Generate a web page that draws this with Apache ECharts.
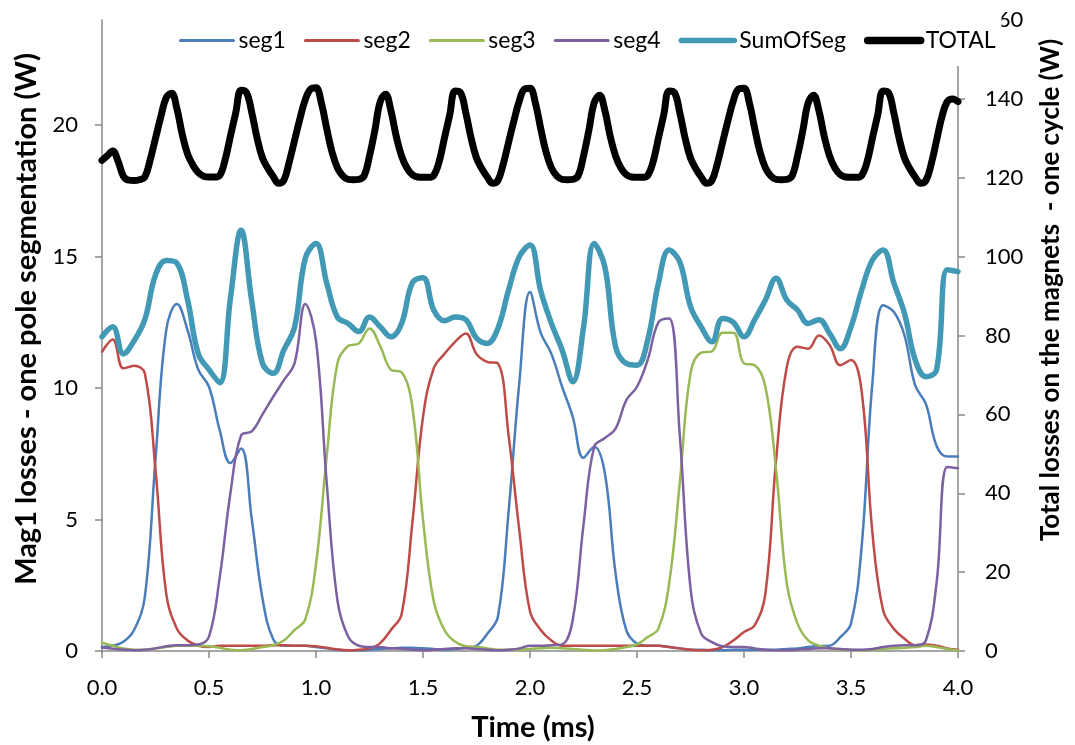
<!DOCTYPE html>
<html><head><meta charset="utf-8">
<script src="https://cdn.jsdelivr.net/npm/echarts@6/dist/echarts.min.js"></script>
<style>html,body{margin:0;padding:0;background:#fff}#c{width:1075px;height:745px}</style>
</head><body><div id="c"></div>
<script>
// Time (ms) for the segment series
const time = [0,0.05,0.1,0.15,0.2,0.25,0.3,0.35,0.4,0.45,0.5,0.55,0.6,0.65,0.7,0.75,0.8,0.85,0.9,0.95,
1.0,1.05,1.1,1.15,1.2,1.25,1.3,1.35,1.4,1.45,1.5,1.55,1.6,1.65,1.7,1.75,1.8,1.85,1.9,1.95,
2.0,2.05,2.1,2.15,2.2,2.25,2.3,2.35,2.4,2.45,2.5,2.55,2.6,2.65,2.7,2.75,2.8,2.85,2.9,2.95,
3.0,3.05,3.1,3.15,3.2,3.25,3.3,3.35,3.4,3.45,3.5,3.55,3.6,3.65,3.7,3.75,3.8,3.85,3.9,3.95,4.0];

const seg1 = [0.15,0.2,0.35,0.8,2.05,7.3,12.2,13.2,12.2,10.7,10.05,8.4,7.15,7.7,5.0,2.0,0.45,0.2,0.2,0.2,
0.15,0.1,0.05,0.03,0.03,0.05,0.08,0.1,0.12,0.12,0.1,0.08,0.05,0.08,0.12,0.2,0.65,1.3,5.3,10.2,
13.65,12.1,11.3,10.05,8.9,7.35,7.77,6.75,2.94,0.79,0.28,0.2,0.2,0.15,0.1,0.05,0.05,0.03,0.03,0.05,
0.05,0.05,0.05,0.05,0.08,0.1,0.15,0.18,0.2,0.53,1.04,4.0,10.2,13.15,12.9,12.0,10.1,9.4,7.8,7.4,7.4];

const seg2 = [11.38,11.85,10.75,10.85,10.56,6.9,2.18,0.85,0.4,0.2,0.15,0.2,0.2,0.2,0.2,0.2,0.22,0.22,0.2,0.2,
0.18,0.12,0.06,0.03,0.05,0.1,0.3,0.8,1.4,4.85,8.9,10.75,11.3,11.76,12.08,11.3,11.0,10.94,8.2,4.6,
1.5,0.8,0.4,0.2,0.2,0.2,0.2,0.2,0.2,0.2,0.2,0.2,0.2,0.15,0.1,0.05,0.03,0.05,0.15,0.4,
0.72,0.98,2.18,7.26,10.8,11.57,11.5,12.0,11.64,10.87,11.07,9.86,4.5,1.55,0.85,0.47,0.22,0.25,0.2,0.1,0.05];

const seg3 = [0.32,0.2,0.1,0.05,0.05,0.1,0.15,0.2,0.2,0.2,0.18,0.12,0.05,0.03,0.08,0.15,0.22,0.4,0.8,1.2,
3.3,7.4,10.94,11.6,11.7,12.27,11.6,10.7,10.6,9.3,5.0,1.9,0.8,0.35,0.18,0.15,0.1,0.05,0.05,0.05,
0.08,0.1,0.12,0.1,0.08,0.05,0.02,0.03,0.08,0.15,0.25,0.53,0.85,2.56,6.4,10.56,11.35,11.4,12.1,12.1,
10.94,10.87,10.05,6.88,2.56,1.04,0.4,0.2,0.1,0.05,0.05,0.03,0.05,0.08,0.1,0.12,0.15,0.2,0.15,0.08,0.02];

const seg4 = [0.13,0.09,0.05,0.03,0.05,0.1,0.18,0.22,0.22,0.25,0.55,2.8,6.0,8.2,8.35,9.0,9.67,10.3,10.95,13.2,
11.8,6.4,1.93,0.55,0.2,0.15,0.15,0.1,0.09,0.05,0.03,0.05,0.08,0.1,0.1,0.08,0.05,0.03,0.05,0.1,
0.2,0.2,0.22,0.25,1.2,4.8,7.77,8.1,8.46,9.54,10.05,11.07,12.5,12.65,8.2,2.4,0.66,0.34,0.18,0.15,
0.15,0.1,0.05,0.03,0.03,0.05,0.08,0.1,0.1,0.08,0.05,0.05,0.08,0.15,0.2,0.22,0.22,0.4,2.6,7.0,6.95];

const sumOfSeg = [11.95,12.33,11.3,11.8,12.6,14.3,14.85,14.75,13.35,11.3,10.7,10.2,13.4,16.0,13.3,10.94,10.56,11.45,12.33,14.94,
15.5,14.0,12.7,12.46,12.15,12.7,12.33,11.95,12.46,14.0,14.2,12.97,12.56,12.7,12.6,11.9,11.7,12.27,13.73,15.0,
15.44,13.7,12.46,11.45,10.24,12.3,15.5,14.6,11.57,10.94,10.87,11.83,13.98,15.25,14.8,13.1,12.33,11.76,12.65,12.5,
11.95,12.6,13.35,14.18,13.35,12.97,12.46,12.6,12.08,11.5,12.33,13.73,14.87,15.25,14.0,12.84,11.07,10.43,10.7,14.5,14.43];

// Time (ms) for the TOTAL series
const totalTime = [0,0.025,0.05,0.075,0.1,0.125,0.15,0.175,0.2,0.225,0.25,0.275,0.3,0.325,0.35,0.375,0.4,0.425,0.45,0.475,
0.5,0.525,0.55,0.575,0.6,0.625,0.65,0.675,0.7,0.725,0.75,0.775,0.8,0.825,0.85,0.875,0.9,0.925,0.95,0.975,
1.0,1.025,1.05,1.075,1.1,1.125,1.15,1.175,1.2,1.225,1.25,1.275,1.3,1.325,1.35,1.375,1.4,1.425,1.45,1.475,
1.5,1.525,1.55,1.575,1.6,1.625,1.65,1.675,1.7,1.725,1.75,1.775,1.8,1.825,1.85,1.875,1.9,1.925,1.95,1.975,
2.0,2.025,2.05,2.075,2.1,2.125,2.15,2.175,2.2,2.225,2.25,2.275,2.3,2.325,2.35,2.375,2.4,2.425,2.45,2.475,
2.5,2.525,2.55,2.575,2.6,2.625,2.65,2.675,2.7,2.725,2.75,2.775,2.8,2.825,2.85,2.875,2.9,2.925,2.95,2.975,
3.0,3.025,3.05,3.075,3.1,3.125,3.15,3.175,3.2,3.225,3.25,3.275,3.3,3.325,3.35,3.375,3.4,3.425,3.45,3.475,
3.5,3.525,3.55,3.575,3.6,3.625,3.65,3.675,3.7,3.725,3.75,3.775,3.8,3.825,3.85,3.875,3.9,3.925,3.95,3.975,4.0];

const total = [124.4,125.6,126.8,124.2,120.4,119.4,119.3,119.5,120.2,124.5,130.0,135.5,140.3,141.4,137.5,131.0,126.0,123.2,121.3,120.4,
120.2,120.2,120.6,124.5,130.5,136.5,142.2,141.6,136.5,130.0,125.0,122.4,120.3,118.6,119.4,124.0,129.5,135.0,139.8,142.5,
142.8,139.0,132.5,126.5,122.5,120.5,119.6,119.5,119.6,120.5,125.5,132.0,139.3,141.2,137.0,130.5,125.5,122.5,120.8,120.2,
120.1,120.1,120.6,124.0,130.0,136.0,142.0,141.6,136.5,130.0,125.0,122.3,120.2,118.6,119.3,123.5,129.0,134.5,139.5,142.5,
142.7,139.0,132.5,126.5,122.5,120.5,119.6,119.5,119.6,120.5,125.5,132.0,139.0,140.9,137.0,130.5,125.5,122.5,120.8,120.2,
120.1,120.1,120.6,124.0,130.0,136.0,142.0,141.6,136.5,130.0,125.0,122.3,120.2,118.6,119.3,123.5,129.0,134.5,139.5,142.5,
142.7,139.0,132.5,126.5,122.5,120.5,119.6,119.5,119.6,120.5,125.5,132.0,139.0,140.9,137.0,130.5,125.5,122.5,120.8,120.2,
120.1,120.1,120.6,124.0,130.0,136.0,142.0,141.6,136.5,130.0,125.0,122.3,120.2,118.6,119.3,123.5,129.5,135.5,139.3,140.0,139.3];

const leftTicks = [0,5,10,15,20];
const seriesNames = ['seg1','seg2','seg3','seg4','SumOfSeg','TOTAL'];
const xTitle = 'Time (ms)';
const leftTitle = 'Mag1 losses - one pole segmentation (W)';
const rightTitle = 'Total losses on the magnets  - one cycle (W)';

const FONT = 'Lato';
const AX = {color:'#898989', width:1.5};
const COLORS = {seg1:'#4A7EBB', seg2:'#BE4B48', seg3:'#98B954', seg4:'#7D60A0', SumOfSeg:'#4299B6', TOTAL:'#000000'};
const WIDTHS = {seg1:2.5, seg2:2.5, seg3:2.5, seg4:2.5, SumOfSeg:5.5, TOTAL:7};
const LEGEND_W = {seg1:3, seg2:3, seg3:3, seg4:3, SumOfSeg:5.5, TOTAL:7.5};

const pair = (xs, ys) => xs.map((x,i)=>[x, ys[i]]);
const lineSeries = (name, xs, ys, yIdx) => ({
  name, type:'line', xAxisIndex:0, yAxisIndex:yIdx, data:pair(xs, ys),
  smooth:0.4, symbol:'none', showSymbol:false,
  lineStyle:{color:COLORS[name], width:WIDTHS[name], cap:'round', join:'round'},
  itemStyle:{color:COLORS[name]},
  emphasis:{disabled:true}
});

const chart = echarts.init(document.getElementById('c'));
chart.setOption({
  animation:false,
  backgroundColor:'#fff',
  grid:{left:102, right:117, top:20, bottom:94, containLabel:false},
  legend:{
    data:seriesNames.map(n => ({
      name:n,
      itemStyle:{opacity:0},
      lineStyle:{width:LEGEND_W[n], color:COLORS[n], cap:'round', opacity:1}
    })),
    left:176, top:11, orient:'horizontal',
    itemWidth:53, itemHeight:14, itemGap:18, padding:[18,6,14,3],
    backgroundColor:'#fff',
    itemStyle:{opacity:0},
    textStyle:{fontFamily:FONT, fontSize:23, color:'#000'}
  },
  xAxis:{
    type:'value', min:0, max:4, interval:0.5,
    axisLine:{show:true, onZero:false, lineStyle:AX},
    axisTick:{show:true, inside:false, length:7, lineStyle:AX},
    axisLabel:{margin:26, fontSize:22, fontFamily:FONT, color:'#000', formatter:v=>v.toFixed(1)},
    splitLine:{show:false}
  },
  yAxis:[
    {type:'value', position:'left', min:0, max:24,
     axisLine:{show:true, onZero:false, lineStyle:AX},
     axisTick:{show:true, inside:false, length:7, lineStyle:AX, customValues:leftTicks},
     axisLabel:{margin:24, fontSize:22, fontFamily:FONT, color:'#000', customValues:leftTicks},
     splitLine:{show:false}},
    {type:'value', position:'right', min:0, max:160, interval:20,
     axisLine:{show:true, onZero:false, lineStyle:AX},
     axisTick:{show:true, inside:false, length:7, lineStyle:AX},
     axisLabel:{margin:27, fontSize:22, fontFamily:FONT, color:'#000'},
     splitLine:{show:false}}
  ],
  graphic:[
    {type:'text', x:533, y:728, silent:true,
     style:{text:xTitle, fontFamily:FONT, fontWeight:'bold', fontSize:29, fill:'#000', align:'center', verticalAlign:'middle'}},
    {type:'text', x:27, y:319, rotation:Math.PI/2, silent:true,
     style:{text:leftTitle, fontFamily:FONT, fontWeight:'bold', fontSize:29, fill:'#000', align:'center', verticalAlign:'middle'}},
    {type:'text', x:1051, y:290, rotation:Math.PI/2, silent:true,
     style:{text:rightTitle, fontFamily:FONT, fontWeight:'bold', fontSize:26, fill:'#000', align:'center', verticalAlign:'middle'}}
  ],
  series:[
    lineSeries('seg1', time, seg1, 0),
    lineSeries('seg2', time, seg2, 0),
    lineSeries('seg3', time, seg3, 0),
    lineSeries('seg4', time, seg4, 0),
    lineSeries('SumOfSeg', time, sumOfSeg, 0),
    lineSeries('TOTAL', totalTime, total, 1)
  ]
});
</script></body></html>
